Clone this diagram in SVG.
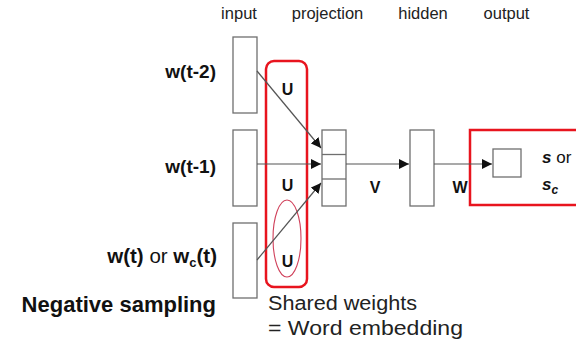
<svg xmlns="http://www.w3.org/2000/svg" width="576" height="345" viewBox="0 0 576 345">
<style>
.box{fill:#fff;stroke:#6f6f6f;stroke-width:1.3}
.red{fill:none;stroke:#e8141e;stroke-width:2.5}
.ln{stroke:#555;stroke-width:1.2;fill:none}
.hd{font-family:"Liberation Sans",Arial,sans-serif;font-size:16.5px;fill:#222}
.lb{font-family:"Liberation Sans",Arial,sans-serif;font-weight:bold;font-size:19px;fill:#111}
.u{font-family:"Liberation Sans",Arial,sans-serif;font-weight:bold;font-size:16px;fill:#111}
.sw{font-family:"Liberation Sans",Arial,sans-serif;font-size:20px;fill:#222}
</style>
<defs>
<marker id="ah" viewBox="0 0 10 10" refX="10" refY="5" markerWidth="10" markerHeight="10" markerUnits="userSpaceOnUse" orient="auto">
<path d="M0,0 L10,5 L0,10 z" fill="#111"/>
</marker>
</defs>
<rect width="576" height="345" fill="#fff"/>
<g id="headers">
<text class="hd" x="239" y="19" text-anchor="middle">input</text>
<text class="hd" x="327.5" y="19" text-anchor="middle">projection</text>
<text class="hd" x="423" y="19" text-anchor="middle">hidden</text>
<text class="hd" x="506.5" y="19" text-anchor="middle">output</text>
</g>
<g id="labels">
<text class="lb" x="216" y="78" text-anchor="end">w(t-2)</text>
<text class="lb" x="216" y="173" text-anchor="end">w(t-1)</text>
<text class="lb" x="217" y="263" text-anchor="end" style="font-size:20.5px">w(t) <tspan font-weight="normal">or</tspan> w<tspan style="font-size:13px" dy="4">c</tspan><tspan dy="-4">(t)</tspan></text>
<text class="lb" x="216" y="312" text-anchor="end" style="font-size:22px">Negative sampling</text>
</g>
<g id="shared-weights">
<rect class="red" x="266" y="61" width="41" height="226" rx="8"/>
<ellipse cx="287" cy="238.5" rx="14" ry="38.5" fill="none" stroke="#d0405a" stroke-width="1.1"/>
<text class="u" x="287.5" y="95" text-anchor="middle">U</text>
<text class="u" x="287.5" y="191" text-anchor="middle">U</text>
<text class="u" x="287.5" y="267" text-anchor="middle">U</text>
<text class="sw" x="268" y="310" textLength="149" lengthAdjust="spacingAndGlyphs">Shared weights</text>
<text class="sw" x="268" y="335" textLength="195" lengthAdjust="spacingAndGlyphs">= Word embedding</text>
</g>
<g id="input1"><rect class="box" x="233" y="37" width="24" height="76"/></g>
<g id="input2"><rect class="box" x="233" y="130" width="24" height="76"/></g>
<g id="input3"><rect class="box" x="233" y="223" width="24" height="75"/></g>
<g id="projection">
<rect class="box" x="322" y="130" width="24" height="76"/>
<line class="box" x1="322" y1="154.5" x2="346" y2="154.5"/>
<line class="box" x1="322" y1="179" x2="346" y2="179"/>
</g>
<g id="hidden"><rect class="box" x="410" y="130" width="24" height="76"/></g>
<g id="output">
<rect class="red" x="470" y="130" width="120" height="75"/>
<rect class="box" x="493" y="149" width="28" height="28"/>
<text x="542" y="163" font-family="Liberation Sans,Arial,sans-serif" font-size="17" fill="#111"><tspan font-weight="bold" font-style="italic">s</tspan> or</text>
<text x="542" y="190" font-family="Liberation Sans,Arial,sans-serif" font-size="17" font-weight="bold" font-style="italic" fill="#111">s<tspan font-size="12" dy="4">c</tspan></text>
</g>
<g id="connectors">
<line class="ln" x1="257" y1="71" x2="321" y2="148" marker-end="url(#ah)"/>
<line class="ln" x1="257" y1="164" x2="321" y2="164" marker-end="url(#ah)"/>
<line class="ln" x1="257" y1="260" x2="321" y2="183" marker-end="url(#ah)"/>
<line class="ln" x1="346" y1="164" x2="409" y2="164" marker-end="url(#ah)"/>
<line class="ln" x1="434" y1="164" x2="492" y2="164" marker-end="url(#ah)"/>
<text class="u" x="375" y="193" text-anchor="middle">V</text>
<text class="u" x="460" y="193" text-anchor="middle">W</text>
</g>
</svg>
